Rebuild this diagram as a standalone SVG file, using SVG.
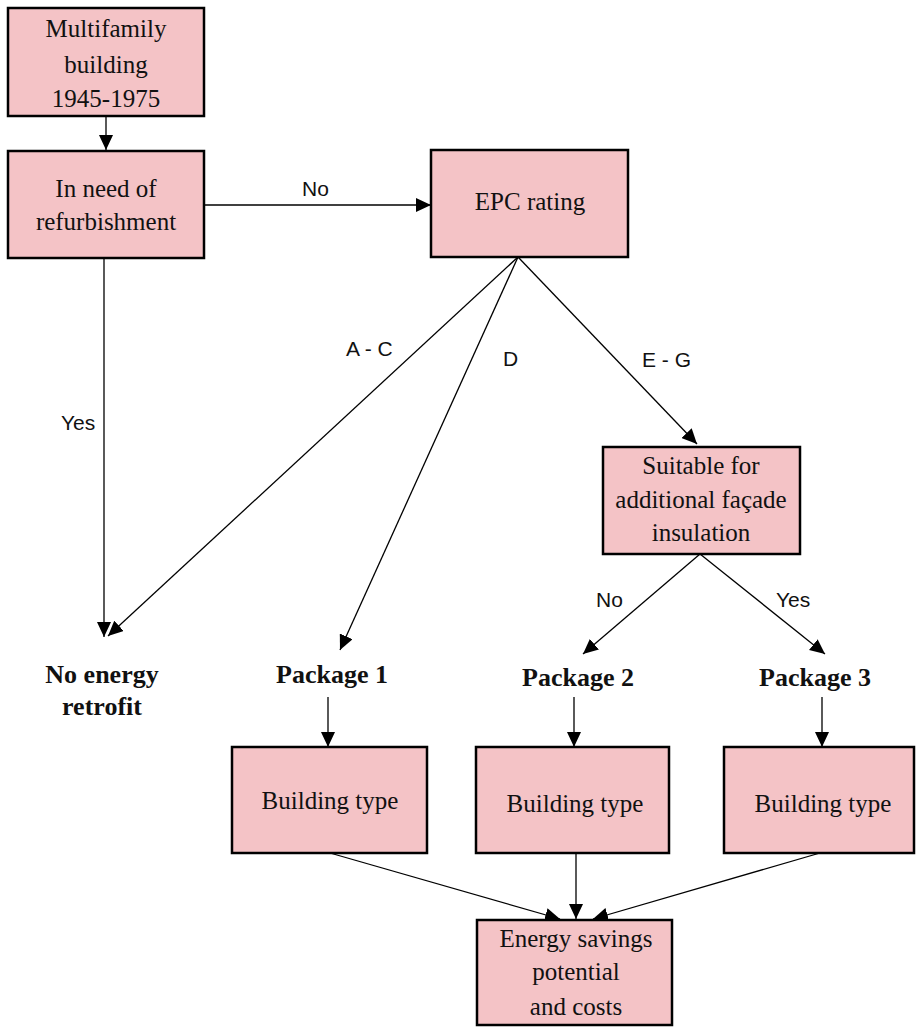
<svg xmlns="http://www.w3.org/2000/svg" width="917" height="1027" viewBox="0 0 917 1027">
<style>
.box{fill:#F4C3C6;stroke:#000;stroke-width:2.5}
.t{font-family:"Liberation Serif",serif;font-size:25px;fill:#111;text-anchor:middle}
.b{font-family:"Liberation Serif",serif;font-size:26px;font-weight:bold;fill:#111;text-anchor:middle}
.l{font-family:"Liberation Sans",sans-serif;font-size:21px;fill:#111}
.c{stroke:#000;stroke-width:1.3;fill:none;marker-end:url(#ah)}
</style>
<defs>
<marker id="ah" markerUnits="userSpaceOnUse" markerWidth="16" markerHeight="14" refX="15" refY="7" orient="auto">
<path d="M0,0 L15,7 L0,14 z" fill="#000"/>
</marker>
</defs>
<rect width="917" height="1027" fill="#fff"/>
<g id="connectors">
<line class="c" x1="106" y1="116" x2="106" y2="150"/>
<line class="c" x1="204" y1="205" x2="431" y2="205"/>
<line class="c" x1="104" y1="258" x2="104" y2="637"/>
<line class="c" x1="518" y1="257" x2="108" y2="636"/>
<line class="c" x1="518" y1="257" x2="340" y2="650"/>
<line class="c" x1="518" y1="257" x2="697" y2="444"/>
<line class="c" x1="700" y1="554" x2="583" y2="654"/>
<line class="c" x1="700" y1="554" x2="825" y2="654"/>
<line class="c" x1="328" y1="697" x2="328" y2="747"/>
<line class="c" x1="574" y1="697" x2="574" y2="747"/>
<line class="c" x1="822" y1="697" x2="822" y2="747"/>
<line class="c" x1="330" y1="853" x2="560" y2="919"/>
<line class="c" x1="576" y1="853" x2="576" y2="919"/>
<line class="c" x1="820" y1="853" x2="593" y2="919"/>
<text class="l" x="302" y="196">No</text>
<text class="l" x="61" y="430">Yes</text>
<text class="l" x="346" y="356">A - C</text>
<text class="l" x="503" y="366">D</text>
<text class="l" x="642" y="367">E - G</text>
<text class="l" x="596" y="607">No</text>
<text class="l" x="776" y="607">Yes</text>
</g>
<g id="n-multifamily">
<rect class="box" x="8" y="8" width="196" height="108"/>
<text class="t" x="106" y="37">Multifamily</text>
<text class="t" x="106" y="73">building</text>
<text class="t" x="106" y="107">1945-1975</text>
</g>
<g id="n-need">
<rect class="box" x="8" y="151" width="196" height="107"/>
<text class="t" x="106" y="197">In need of</text>
<text class="t" x="106" y="230">refurbishment</text>
</g>
<g id="n-epc">
<rect class="box" x="431" y="150" width="197" height="107"/>
<text class="t" x="530" y="210">EPC rating</text>
</g>
<g id="n-suitable">
<rect class="box" x="603" y="447" width="197" height="107"/>
<text class="t" x="701" y="474">Suitable for</text>
<text class="t" x="701" y="508">additional façade</text>
<text class="t" x="701" y="541">insulation</text>
</g>
<g id="n-noretrofit">
<text class="b" x="102" y="683">No energy</text>
<text class="b" x="102" y="715">retrofit</text>
</g>
<g id="n-package1"><text class="b" x="332" y="683">Package 1</text></g>
<g id="n-package2"><text class="b" x="578" y="686">Package 2</text></g>
<g id="n-package3"><text class="b" x="815" y="686">Package 3</text></g>
<g id="n-bt1">
<rect class="box" x="232" y="747" width="195" height="106"/>
<text class="t" x="330" y="809">Building type</text>
</g>
<g id="n-bt2">
<rect class="box" x="476" y="747" width="193" height="106"/>
<text class="t" x="575" y="812">Building type</text>
</g>
<g id="n-bt3">
<rect class="box" x="724" y="747" width="190" height="106"/>
<text class="t" x="823" y="812">Building type</text>
</g>
<g id="n-energy">
<rect class="box" x="477" y="920" width="195" height="105"/>
<text class="t" x="576" y="947">Energy savings</text>
<text class="t" x="576" y="980">potential</text>
<text class="t" x="576" y="1015">and costs</text>
</g>
</svg>
